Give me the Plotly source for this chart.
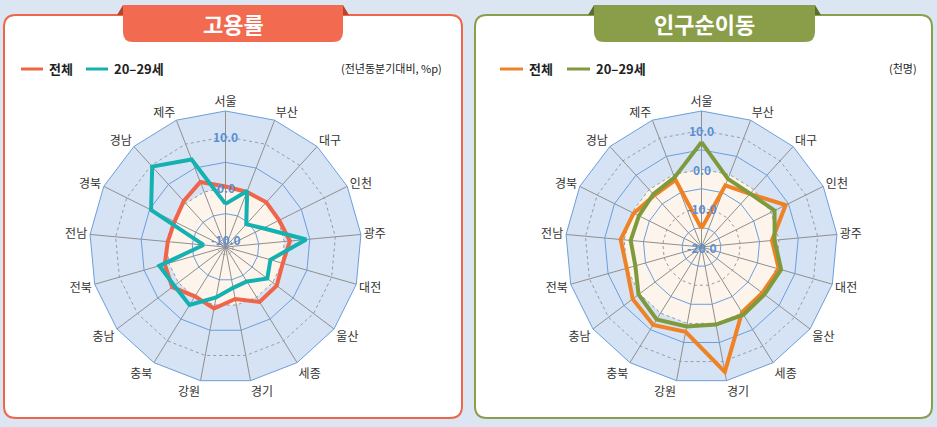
import plotly.graph_objects as go

W, H = 937, 427

regions = ['서울', '부산', '대구', '인천', '광주', '대전', '울산', '세종', '경기',
           '강원', '충북', '충남', '전북', '전남', '경북', '경남', '제주']

# 고용률 (전년동분기대비, %p)
emp_total = [0.3, 0.0, 0.3, 0.2, 1.1, 0.1, 1.0, 1.1, -1.2, 0.7, -0.2, 1.5, 0.8, -0.2, -0.4, 0.6, 2.1]
emp_2029 = [-3.1, 0.2, -5.5, -3.3, 4.3, -2.4, -1.3, -3.6, -3.4, -1.5, 1.8, 1.0, 1.9, -7.2, 4.7, 9.7, 6.8]

# 인구순이동 (천명)
mig_total = [-15.2, -3.0, -1.5, 4.2, -1.8, 0.7, -0.4, -0.2, 12.7, 2.2, 3.6, 2.2, 0.0, 0.9, -0.5, -2.0, -1.5]
mig_2029 = [7.0, -1.2, -1.4, 1.0, -1.1, 1.3, 0.3, 0.5, 0.3, 0.8, 1.9, 0.3, -2.3, -1.7, -2.0, -1.6, -0.8]

emp_range = [-11.5, 15]
mig_range = [-20, 15]
emp_ticks = [10, 0, -10]
mig_ticks = [10, 0, -10, -20]
emp_minor = [-5, 5]
mig_minor = [-15, -5, 5]

FONT = 'Noto Sans CJK KR'
BLUE = '#6b9edb'
GRAY = '#8f8f8f'
R_PX = 136  # polar radius in px
CY = 247


def px(x, y):
    return x / W, 1 - y / H


def path(points, close=True):
    s = ''
    for i, p in enumerate(points):
        if p[0] == 'Q':
            (cx, cy), (ex, ey) = p[1], p[2]
            a, b = px(cx, cy)
            c, d = px(ex, ey)
            s += f' Q {a:.5f},{b:.5f} {c:.5f},{d:.5f}'
        else:
            a, b = px(*p)
            s += (' M ' if i == 0 else ' L ') + f'{a:.5f},{b:.5f}'
    return s + (' Z' if close else '')


def panel(x0, y0, x1, y1, r):
    return path([(x0 + r, y0), (x1 - r, y0), ('Q', (x1, y0), (x1, y0 + r)),
                 (x1, y1 - r), ('Q', (x1, y1), (x1 - r, y1)), (x0 + r, y1),
                 ('Q', (x0, y1), (x0, y1 - r)), (x0, y0 + r), ('Q', (x0, y0), (x0 + r, y0))])


def tab(x0, y0, x1, y1, r):
    return path([(x0, y0), (x1, y0), (x1, y1 - r), ('Q', (x1, y1), (x1 - r, y1)),
                 (x0 + r, y1), ('Q', (x0, y1), (x0, y1 - r))])


def closed(v):
    return list(v) + [v[0]]


theta = closed(regions)

fig = go.Figure()


def ring(pid, value, color, dash):
    fig.add_trace(go.Scatterpolar(
        r=[value] * len(theta), theta=theta, subplot=pid, mode='lines',
        line=dict(color=color, width=1, dash=dash), hoverinfo='skip', showlegend=False))


def add_radar(pid, total, young, c_total, c_young, ticks, minor, rng):
    # area below zero
    fig.add_trace(go.Scatterpolar(
        r=[0] * len(theta), theta=theta, subplot=pid, mode='lines', fill='toself',
        fillcolor='#fdf4ec', line=dict(color='#9a9a9a', width=1, dash='3px,3px'),
        hoverinfo='skip', showlegend=False))
    # spokes
    sp_r, sp_t = [], []
    for reg in regions:
        sp_r += [rng[0], rng[1], None]
        sp_t += [reg, reg, None]
    fig.add_trace(go.Scatterpolar(
        r=sp_r, theta=sp_t, subplot=pid, mode='lines', connectgaps=False,
        line=dict(color=GRAY, width=1), hoverinfo='skip', showlegend=False))
    for m in minor:
        ring(pid, m, BLUE, 'solid')
    for t in ticks:
        if t != 0 and t > rng[0]:
            ring(pid, t, '#9a9a9a', '3px,3px')
    fig.add_trace(go.Scatterpolar(
        r=closed(total), theta=theta, subplot=pid, mode='lines', name='전체',
        line=dict(color=c_total, width=4), showlegend=False))
    fig.add_trace(go.Scatterpolar(
        r=closed(young), theta=theta, subplot=pid, mode='lines', name='20–29세',
        line=dict(color=c_young, width=4), showlegend=False))


add_radar('polar', emp_total, emp_2029, '#f0654a', '#14b1b0', emp_ticks, emp_minor, emp_range)
add_radar('polar2', mig_total, mig_2029, '#ef8225', '#7f9a3c', mig_ticks, mig_minor, mig_range)


def polar_cfg(cx, rng):
    x0, y0 = px(cx - R_PX, CY + R_PX)
    x1, y1 = px(cx + R_PX, CY - R_PX)
    return dict(
        domain=dict(x=[x0, x1], y=[y0, y1]),
        bgcolor='#d6e3f4',
        gridshape='linear',
        radialaxis=dict(range=rng, showgrid=False, showticklabels=False, ticks='',
                        showline=False, angle=90),
        angularaxis=dict(direction='clockwise', rotation=90, showgrid=False,
                         linecolor=BLUE, linewidth=1, showline=True, ticks='',
                         tickfont=dict(size=12, color='#333333', family=FONT)),
    )


shapes = [
    dict(type='path', path=panel(4, 15, 462, 418, 12), xref='paper', yref='paper',
         fillcolor='white', line=dict(color='#f0654a', width=2), layer='below'),
    dict(type='path', path=panel(475, 15, 932, 418, 12), xref='paper', yref='paper',
         fillcolor='white', line=dict(color='#8a9e4c', width=2), layer='below'),
    dict(type='path', path=path([(117, 15), (123, 5), (123, 15)]), xref='paper', yref='paper',
         fillcolor='#b9442c', line=dict(width=0)),
    dict(type='path', path=path([(343, 5), (349, 15), (343, 15)]), xref='paper', yref='paper',
         fillcolor='#b9442c', line=dict(width=0)),
    dict(type='path', path=tab(123, 5, 343, 42, 10), xref='paper', yref='paper',
         fillcolor='#f26a4f', line=dict(width=0)),
    dict(type='path', path=path([(588, 15), (594, 5), (594, 15)]), xref='paper', yref='paper',
         fillcolor='#5c6e2c', line=dict(width=0)),
    dict(type='path', path=path([(815, 5), (821, 15), (815, 15)]), xref='paper', yref='paper',
         fillcolor='#5c6e2c', line=dict(width=0)),
    dict(type='path', path=tab(594, 5, 815, 42, 10), xref='paper', yref='paper',
         fillcolor='#8a9e4a', line=dict(width=0)),
]

annotations = []


def note(x, y, text, anchor, size, color, bold=False):
    a, b = px(x, y)
    annotations.append(dict(x=a, y=b, xref='paper', yref='paper',
                            text=f'<b>{text}</b>' if bold else text, showarrow=False,
                            xanchor=anchor, yanchor='middle',
                            font=dict(size=size, color=color, family=FONT)))


def legend_item(x0, x1, y, color, label):
    a, b = px(x0, y)
    c, _ = px(x1, y)
    shapes.append(dict(type='line', x0=a, x1=c, y0=b, y1=b, xref='paper', yref='paper',
                       line=dict(color=color, width=3)))
    note(x1 + 4, y, label, 'left', 13, '#222222', True)


legend_item(21, 43, 69, '#f0654a', '전체')
legend_item(86, 108, 69, '#14b1b0', '20–29세')
legend_item(500, 523, 69, '#ef8225', '전체')
legend_item(567, 590, 69, '#7f9a3c', '20–29세')

# radial tick labels centred on the top spoke
for cx, rng, ticks in [(225.5, emp_range, emp_ticks), (701.5, mig_range, mig_ticks)]:
    for t in ticks:
        y = CY - (t - rng[0]) / (rng[1] - rng[0]) * R_PX
        note(cx, y, f'{t:.1f}', 'center', 12, '#5a8fd4', True)

note(233, 23, '고용률', 'center', 22, 'white', True)
note(704.5, 23, '인구순이동', 'center', 22, 'white', True)
note(444, 68, '(전년동분기대비, %p)', 'right', 11, '#222222')
note(919, 68, '(천명)', 'right', 11, '#222222')

fig.update_layout(
    width=W, height=H,
    margin=dict(l=0, r=0, t=0, b=0),
    paper_bgcolor='#dce6f2',
    showlegend=False,
    polar=polar_cfg(225.5, emp_range),
    polar2=polar_cfg(701.5, mig_range),
    shapes=shapes,
    annotations=annotations,
    font=dict(family=FONT),
)

fig.write_html('out.html', config={'displayModeBar': False},
               post_script="document.body.style.margin='0';"
                           "document.body.style.overflow='hidden';")
